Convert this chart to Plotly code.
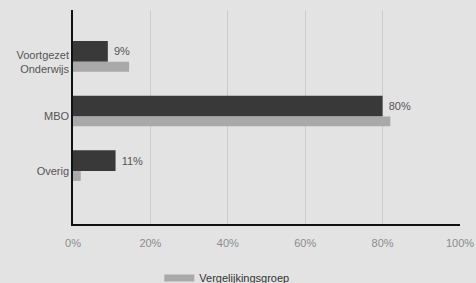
import plotly.graph_objects as go

categories = ["Voortgezet<br>Onderwijs", "MBO", "Overig"]
school_values = [9, 80, 11]
vergelijking_values = [14.5, 82, 2]
x_ticks = [0, 20, 40, 60, 80, 100]
x_tick_labels = ["0%", "20%", "40%", "60%", "80%", "100%"]

fig = go.Figure()
fig.add_trace(go.Bar(
    y=categories, x=school_values, orientation="h", name="School",
    marker=dict(color="#393939", line=dict(width=0)),
    width=0.38, offset=-0.38,
    text=["\u00a0" + f"{v}%" for v in school_values],
    textposition="outside", cliponaxis=False,
    textfont=dict(color="#555555", size=11, family="Liberation Sans"),
    showlegend=False,
))
fig.add_trace(go.Bar(
    y=categories, x=vergelijking_values, orientation="h", name="Vergelijkingsgroep",
    marker=dict(color="#a9a9a9", line=dict(width=0)),
    width=0.18, offset=0.0,
    showlegend=False,
))
# legend entry with a wide bar-like swatch
fig.add_trace(go.Scatter(
    x=[None], y=[None], mode="lines", name="Vergelijkingsgroep",
    line=dict(color="#a9a9a9", width=7), showlegend=True,
))

fig.update_layout(
    width=476, height=283,
    margin=dict(l=73, r=16, t=10, b=59, autoexpand=False),
    paper_bgcolor="#e3e3e3", plot_bgcolor="#e3e3e3",
    barmode="overlay",
    font=dict(family="Liberation Sans", size=11, color="#555555"),
    legend=dict(orientation="h", x=0.223, y=-0.252, xanchor="left", yanchor="middle",
                font=dict(size=11, color="#333333"), bgcolor="rgba(0,0,0,0)"),
    xaxis=dict(range=[0, 100], tickvals=x_ticks, ticktext=x_tick_labels,
               showgrid=True, gridcolor="#cbcbcb", gridwidth=1,
               showline=True, linecolor="#111111", linewidth=1.5,
               zeroline=False, ticks="outside", ticklen=8, tickcolor="rgba(0,0,0,0)",
               tickfont=dict(color="#8c8c8c", size=11),
               automargin=False, fixedrange=True),
    yaxis=dict(range=[2.97, -0.95], showgrid=False, showline=True,
               linecolor="#111111", linewidth=1.5, ticks="",
               tickfont=dict(color="#555555", size=11),
               automargin=False, fixedrange=True),
)

fig.write_html("out.html", config={"displayModeBar": False},
               post_script="document.body.style.margin='0';")
